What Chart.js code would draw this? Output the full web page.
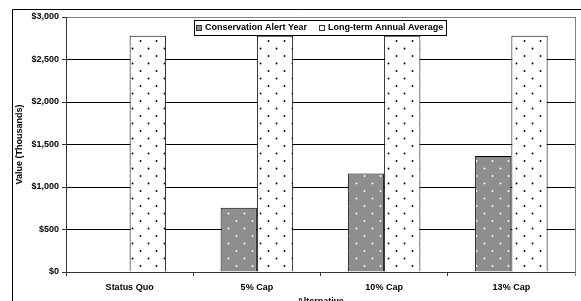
<!DOCTYPE html>
<html><head><meta charset="utf-8">
<script src="https://cdn.jsdelivr.net/npm/chart.js@4/dist/chart.umd.min.js"></script>
<style>html,body{margin:0;padding:0;background:#fff;overflow:hidden}canvas{display:block}</style>
</head><body>
<canvas id="c" width="581" height="301"></canvas>
<script>
const categories = ['Status Quo', '5% Cap', '10% Cap', '13% Cap'];
const conservationAlertYear = [null, 755, 1160, 1365];
const longTermAnnualAverage = [2780, 2780, 2780, 2780];
const seriesNames = ['Conservation Alert Year', 'Long-term Annual Average'];
const yTicks = [0, 500, 1000, 1500, 2000, 2500, 3000];
const xTitle = 'Alternative';
const yTitle = 'Value (Thousands)';

const FONT = '"Liberation Sans", Arial, sans-serif';

function dotPattern(bg, dot) {
  const t = document.createElement('canvas');
  t.width = 16; t.height = 15;
  const g = t.getContext('2d');
  g.fillStyle = bg; g.fillRect(0, 0, 16, 15);
  g.fillStyle = dot;
  g.beginPath(); g.arc(4.5, 3.5, 0.95, 0, Math.PI * 2); g.fill();
  g.beginPath(); g.arc(12.5, 11, 0.95, 0, Math.PI * 2); g.fill();
  return document.getElementById('c').getContext('2d').createPattern(t, 'repeat');
}
const grayPat = dotPattern('#8e8e8e', '#ffffff');
const whitePat = dotPattern('#ffffff', '#000000');

const decor = {
  id: 'decor',
  afterDraw(chart) {
    const ctx = chart.ctx, a = chart.chartArea;
    ctx.save();
    ctx.strokeStyle = '#000'; ctx.lineWidth = 1;
    ctx.beginPath(); ctx.moveTo(12.5, 320); ctx.lineTo(12.5, 9.5); ctx.lineTo(600, 9.5); ctx.stroke();
    ctx.strokeStyle = '#808080';
    ctx.beginPath(); ctx.moveTo(Math.round(a.right) + 0.5, a.top); ctx.lineTo(Math.round(a.right) + 0.5, a.bottom + 4); ctx.stroke();
    ctx.fillStyle = '#000';
    ctx.font = 'bold 9px ' + FONT;
    ctx.textAlign = 'center'; ctx.textBaseline = 'middle';
    ctx.fillText(xTitle, (a.left + a.right) / 2, 302);
    ctx.save();
    ctx.translate(20, (a.top + a.bottom) / 2); ctx.rotate(-Math.PI / 2);
    ctx.fillText(yTitle, 0, 0);
    ctx.restore();
    // legend
    const w1 = ctx.measureText(seriesNames[0]).width;
    const w2 = ctx.measureText(seriesNames[1]).width;
    const bw = 2 + 5 + 4 + w1 + 12 + 5 + 4 + w2 + 3;
    const bx = Math.round((a.left + a.right) / 2 - bw / 2);
    const by = 20, bh = 15;
    ctx.fillStyle = '#fff';
    ctx.fillRect(bx, by, bw, bh);
    ctx.strokeStyle = '#000';
    ctx.strokeRect(bx + 0.5, by + 0.5, Math.round(bw), bh);
    let x = bx + 2;
    const cy = by + bh / 2 + 0.5;
    const fills = ['#8e8e8e', '#ffffff'];
    [w1, w2].forEach((w, i) => {
      ctx.fillStyle = fills[i];
      ctx.fillRect(x, cy - 3, 5, 5);
      ctx.strokeStyle = '#333';
      ctx.strokeRect(x + 0.5, cy - 2.5, 5, 5);
      x += 5 + 4;
      ctx.fillStyle = '#000';
      ctx.textAlign = 'left';
      ctx.fillText(seriesNames[i], x, cy);
      x += w + 12;
    });
    ctx.restore();
  }
};

new Chart(document.getElementById('c'), {
  type: 'bar',
  data: {
    labels: categories,
    datasets: [
      { label: seriesNames[0], data: conservationAlertYear, backgroundColor: grayPat, borderColor: '#000', borderWidth: 1 },
      { label: seriesNames[1], data: longTermAnnualAverage, backgroundColor: whitePat, borderColor: '#000', borderWidth: 1 }
    ]
  },
  options: {
    responsive: false,
    animation: false,
    devicePixelRatio: 1,
    layout: { padding: { left: 0, top: 17, right: 6, bottom: 0 } },
    datasets: { bar: { categoryPercentage: 0.57, barPercentage: 1.0 } },
    plugins: { legend: { display: false }, tooltip: { enabled: false } },
    scales: {
      x: {
        grid: { drawOnChartArea: false, drawTicks: true, tickLength: 4, color: '#333', offset: true },
        border: { color: '#333', width: 1 },
        ticks: { color: '#000', font: { family: FONT, size: 9, weight: 'bold' }, padding: 6, maxRotation: 0 },
        afterFit(s) { s.height = 29; }
      },
      y: {
        min: 0, max: 3000,
        afterBuildTicks(s) { s.ticks = yTicks.map(v => ({ value: v })); },
        grid: {
          color: ctx => (ctx.tick && ctx.tick.value === 3000) ? '#808080' : '#000',
          tickColor: '#333', tickLength: 4, lineWidth: 1
        },
        border: { color: '#333', width: 1 },
        ticks: {
          color: '#000', padding: 3,
          font: { family: FONT, size: 9, weight: 'bold' },
          callback: v => '$' + Number(v).toLocaleString('en-US')
        },
        afterFit(s) { s.width = 66; }
      }
    }
  },
  plugins: [decor]
});
</script>
</body></html>
